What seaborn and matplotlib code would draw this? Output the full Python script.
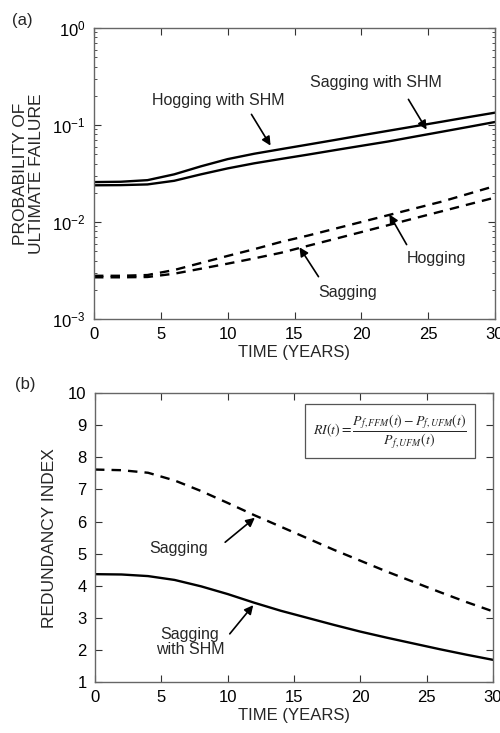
import numpy as np
import pandas as pd
import matplotlib
matplotlib.use('Agg')
import matplotlib.pyplot as plt
import seaborn as sns

# data
years = [0, 2, 4, 6, 8, 10, 12, 14, 16, 18, 20, 22, 24, 26, 28, 30]

hog_shm = [0.0258, 0.0260, 0.0270, 0.0310, 0.0375, 0.0445, 0.0506, 0.0564,
           0.0628, 0.0700, 0.0782, 0.0871, 0.0970, 0.108, 0.1205, 0.134]
sag_shm = [0.0239, 0.0240, 0.0244, 0.0266, 0.0310, 0.0357, 0.0403, 0.0447,
           0.0495, 0.0550, 0.0610, 0.0676, 0.0759, 0.0851, 0.0955, 0.1074]
hog = [0.00279, 0.00279, 0.00284, 0.00320, 0.00378, 0.00447, 0.00525, 0.00624,
       0.00724, 0.00851, 0.0100, 0.01175, 0.0138, 0.0162, 0.0195, 0.0235]
sag = [0.00269, 0.00269, 0.00271, 0.00293, 0.00330, 0.00372, 0.00422, 0.00482,
       0.00568, 0.00668, 0.00787, 0.00927, 0.01094, 0.01288, 0.01517, 0.01786]

ri_sag = [7.62, 7.60, 7.52, 7.28, 6.95, 6.58, 6.20, 5.84, 5.48, 5.12, 4.78,
          4.44, 4.12, 3.80, 3.49, 3.20]
ri_sag_shm = [4.36, 4.35, 4.30, 4.18, 3.98, 3.74, 3.47, 3.22, 3.00, 2.78, 2.57,
              2.38, 2.20, 2.02, 1.85, 1.69]

sns.set_style('ticks')
plt.rcParams['font.family'] = ['Liberation Sans', 'DejaVu Sans']
plt.rcParams['mathtext.fontset'] = 'custom'
plt.rcParams['mathtext.rm'] = 'Liberation Sans'
plt.rcParams['mathtext.it'] = 'Liberation Sans:italic'

fig = plt.figure(figsize=(5, 7.33), dpi=100)
ax1 = fig.add_axes([0.188, 0.5648, 0.802, 0.397])
ax2 = fig.add_axes([0.19, 0.0696, 0.796, 0.394])

solid = dict(color='black', lw=1.7)
dash = dict(color='black', lw=1.7, linestyle=(0, (4, 3)))

sns.lineplot(x=years, y=hog_shm, ax=ax1, **solid)
sns.lineplot(x=years, y=sag_shm, ax=ax1, **solid)
sns.lineplot(x=years, y=hog, ax=ax1, **dash)
sns.lineplot(x=years, y=sag, ax=ax1, **dash)
ax1.set_yscale('log')
ax1.set_ylim(1e-3, 1)
ax1.set_xlim(0, 30)

sns.lineplot(x=years, y=ri_sag, ax=ax2, **dash)
sns.lineplot(x=years, y=ri_sag_shm, ax=ax2, **solid)
ax2.set_xlim(0, 30)
ax2.set_ylim(1, 10)
ax2.set_yticks(range(1, 11))

for ax in (ax1, ax2):
    ax.set_xticks(range(0, 31, 5))
    ax.tick_params(which='both', direction='in', top=True, right=True,
                   labelsize=12, colors='#333333', pad=6)
    ax.tick_params(which='major', length=5)
    ax.tick_params(which='minor', length=2.5)
    for s in ax.spines.values():
        s.set_color('#666666')
        s.set_linewidth(1.0)
    ax.set_xlabel('TIME (YEARS)', fontsize=12, labelpad=2)
    for lab in ax.get_xticklabels() + ax.get_yticklabels():
        lab.set_color('black')

ax1.set_ylabel('PROBABILITY OF\nULTIMATE FAILURE', fontsize=12.5, labelpad=6,
               linespacing=1.1)
ax2.set_ylabel('REDUNDANCY INDEX', fontsize=12.5, labelpad=8)

arrow = dict(arrowstyle='-|>', color='black', lw=1.2, mutation_scale=13)
txt = dict(fontsize=11.5, ha='center', va='center')

def arr(ax, tip, tail):
    ax.annotate('', xy=tip, xycoords='figure pixels', xytext=tail,
                textcoords='figure pixels', arrowprops=arrow)

H = 733
# panel (a) annotations
fig.text(218 / 500, 1 - 100 / H, 'Hogging with SHM', **txt)
arr(ax1, (272, H - 148), (250, H - 112))
fig.text(376 / 500, 1 - 82 / H, 'Sagging with SHM', **txt)
arr(ax1, (428, H - 132), (407, H - 97))
fig.text(437 / 500, 1 - 258 / H, 'Hogging', **txt)
arr(ax1, (388, H - 212), (408, H - 247))
fig.text(348 / 500, 1 - 292 / H, 'Sagging', **txt)
arr(ax1, (298, H - 245), (320, H - 279))

# panel (b) annotations
fig.text(179 / 500, 1 - 548 / H, 'Sagging', **txt)
arr(ax2, (257, H - 516), (223, H - 544))
fig.text(190 / 500, 1 - 642 / H, 'Sagging\nwith SHM', linespacing=1.0, **txt)
arr(ax2, (255, H - 603), (228, H - 636))

# equation box
fig.text(390 / 500, 1 - 431 / H,
         r'$RI(t)=\dfrac{P_{f,FFM}(t)-P_{f,UFM}(t)}{P_{f,UFM}(t)}$',
         math_fontfamily='stix', fontsize=10, ha='center', va='center',
         bbox=dict(boxstyle='square,pad=0.55', fc='white', ec='#555555', lw=0.9))

fig.text(12 / 500, 1 - 21 / H, '(a)', fontsize=12, va='center')
fig.text(15 / 500, 1 - 384 / H, '(b)', fontsize=12, va='center')

plt.savefig('out.png', dpi=100, facecolor='white')
plt.close()
